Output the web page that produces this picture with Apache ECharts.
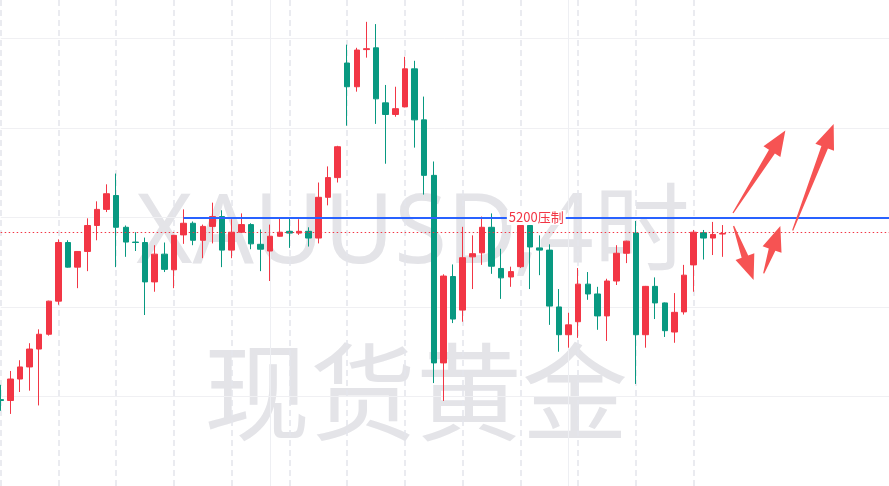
<!DOCTYPE html>
<html><head><meta charset="utf-8">
<script src="https://cdn.jsdelivr.net/npm/echarts@6/dist/echarts.min.js"></script>
<style>html,body{margin:0;padding:0;background:#fff}#c{width:889px;height:486px}</style>
</head><body><div id="c"></div>
<script>
// ---- data ----
const opens = [4793,4791,4839,4866,4906,4939,5013,5144,5089,5124,5182,5218,5249,5178,5145,5144,5056,5118,5083,5161,
5187,5149,5180,5202,5127,5167,5184,5140,5125,5158,5169,5165,5169,5154,5245,5289,5545,5492,5575,5579,
5456,5430,5447,5532,5418,5294,4875,5068,4993,5112,5121,5178,5086,5067,5090,5182,5132,5127,5000,4938,
4967,5051,5029,4980,5058,5120,5165,4938,5046,5009,4944,4989,5094,5166,5154,5163];
const closes = [4791,4839,4866,4906,4939,5013,5144,5089,5124,5182,5218,5253,5178,5145,5144,5056,5118,5084,5160,5187,
5149,5180,5202,5127,5167,5184,5141,5129,5158,5167,5165,5169,5154,5245,5289,5358,5492,5574,5577,5465,
5430,5443,5532,5418,5294,4875,5069,4973,5110,5119,5178,5091,5065,5079,5182,5134,5127,5002,4938,4960,
5051,5029,4980,5058,5120,5147,4938,5046,5009,4947,4988,5071,5167,5154,5162,5164];
const lows = [4768,4761,4810,4813,4780,4936,5005,5088,5042,5080,5149,5212,5089,5112,5125,4982,5034,5078,5042,5141,
5138,5109,5142,5089,5109,5166,5129,5080,5058,5157,5132,5161,5135,5142,5227,5278,5405,5481,5557,5409,
5320,5425,5446,5356,5251,4830,4790,4964,4967,5040,5094,5074,5018,5045,5087,5040,5071,4960,4900,4909,
4931,5016,4949,4924,5049,5098,4828,4909,4973,4933,4920,4983,5034,5106,5116,5112];
const highs = [4826,4857,4881,4919,4950,5014,5151,5149,5125,5198,5236,5274,5298,5182,5167,5155,5138,5144,5161,5218,
5191,5184,5233,5216,5196,5209,5187,5173,5184,5200,5198,5196,5178,5278,5314,5360,5586,5579,5637,5632,
5496,5492,5559,5550,5470,5325,5073,5095,5179,5160,5202,5209,5130,5090,5187,5191,5160,5140,5040,4987,
5087,5078,5045,5063,5138,5148,5192,5047,5066,5010,5031,5094,5172,5172,5190,5183];
const dayLines = [0,6,12,18,24,30,36,42,48,54,60,66,72];
const weekLines = [28,59];
const resistancePrice = 5200;
const resistanceStart = 19;
const resistanceLabel = '5200压制';
const lastPrice = 5166;
const watermarkTop = 'XAUUSD,4时';
const watermarkBottom = '现货黄金';
// arrows: [tail [index, price], tip [index, price]]
const arrows = [
  [[76.09, 5210], [81.53, 5394]],
  [[82.29, 5171], [86.55, 5409]],
  [[76.15, 5181], [78.23, 5060]],
  [[79.28, 5075], [81.01, 5181]]
];
const priceRange = {min: 4600, max: 5685.8, interval: 200};

// ---- chart ----
const rows = opens.map((o, i) => [i, o, closes[i], lows[i], highs[i]]);
const chart = echarts.init(document.getElementById('c'), null, {renderer: 'canvas'});
const UP = '#f23645', DOWN = '#089981';
const option = {
  animation: false,
  backgroundColor: '#ffffff',
  grid: {left: 0.7, right: 0, top: 0, height: 487.3},
  xAxis: {type: 'value', min: 0, max: 92.3, show: false},
  yAxis: {type: 'value', min: priceRange.min, max: priceRange.max, interval: priceRange.interval,
    axisLine: {show: false}, axisTick: {show: false}, axisLabel: {show: false},
    splitLine: {show: true, showMinLine: false, showMaxLine: false, lineStyle: {color: '#f0f0f3', width: 1}}},
  series: [
    {
      type: 'candlestick', z: 2, barWidth: 6,
      data: rows,
      encode: {x: 0, y: [1, 2, 3, 4]},
      itemStyle: {color: UP, color0: DOWN, borderColor: UP, borderColor0: DOWN, borderWidth: 1},
      markLine: {
        z: 1, silent: true, symbol: ['none', 'none'], label: {show: false}, emphasis: {disabled: true},
        data: dayLines.map(v => ({xAxis: v, lineStyle: {color: '#e3e5ec', width: 1.5, type: [6, 4]}}))
          .concat(weekLines.map(v => ({xAxis: v, lineStyle: {color: '#eeeff3', width: 1, type: 'solid'}})))
      }
    },
    {
      type: 'scatter', data: [], z: 5,
      markLine: {
        z: 5, silent: true, symbol: ['none', 'none'], emphasis: {disabled: true},
        data: [
          {yAxis: lastPrice, label: {show: false}, lineStyle: {color: UP, width: 1, type: [1.5, 2.5]}},
          [{coord: [resistanceStart, resistancePrice],
            lineStyle: {color: '#2962ff', width: 2, type: 'solid'},
            label: {show: true, position: 'insideMiddle', distance: 0, formatter: resistanceLabel, color: UP, fontSize: 13,
              fontFamily: '"Noto Sans CJK SC", "Noto Sans", sans-serif', backgroundColor: '#ffffff', padding: [1, 2]}},
           {coord: [92.3, resistancePrice]}]
        ]
      }
    }
  ]
};
chart.setOption(option);

function px(pt) { return chart.convertToPixel({gridIndex: 0}, pt); }
const arrowEls = arrows.map(([t, p]) => {
  const T = px(t), P = px(p);
  const dx = P[0] - T[0], dy = P[1] - T[1];
  const len = Math.hypot(dx, dy);
  const ux = dx / len, uy = dy / len, nx = -uy, ny = ux;
  const headLen = 25, headHalf = 10, shaftHalf = 3.5, tailHalf = 0.6;
  const bx = P[0] - ux * headLen, by = P[1] - uy * headLen;
  const pts = [
    [T[0] + nx * tailHalf, T[1] + ny * tailHalf],
    [bx + nx * shaftHalf, by + ny * shaftHalf],
    [bx + nx * headHalf, by + ny * headHalf],
    [P[0], P[1]],
    [bx - nx * headHalf, by - ny * headHalf],
    [bx - nx * shaftHalf, by - ny * shaftHalf],
    [T[0] - nx * tailHalf, T[1] - ny * tailHalf]
  ];
  return {type: 'polygon', z: 20, silent: true, shape: {points: pts}, style: {fill: '#f65353'}};
});
chart.setOption({
  graphic: [
    {type: 'text', z: -1, silent: true, style: {text: watermarkTop, x: 413, y: 236, align: 'center', verticalAlign: 'middle',
      font: '96px "Noto Sans", "Noto Sans CJK SC", sans-serif', fill: '#e4e4e8'}},
    {type: 'text', z: -1, silent: true, style: {text: watermarkBottom, x: 416, y: 392, align: 'center', verticalAlign: 'middle',
      font: '106px "Noto Sans CJK SC", sans-serif', fill: '#e4e4e8'}}
  ].concat(arrowEls)
});
</script>
</body></html>
